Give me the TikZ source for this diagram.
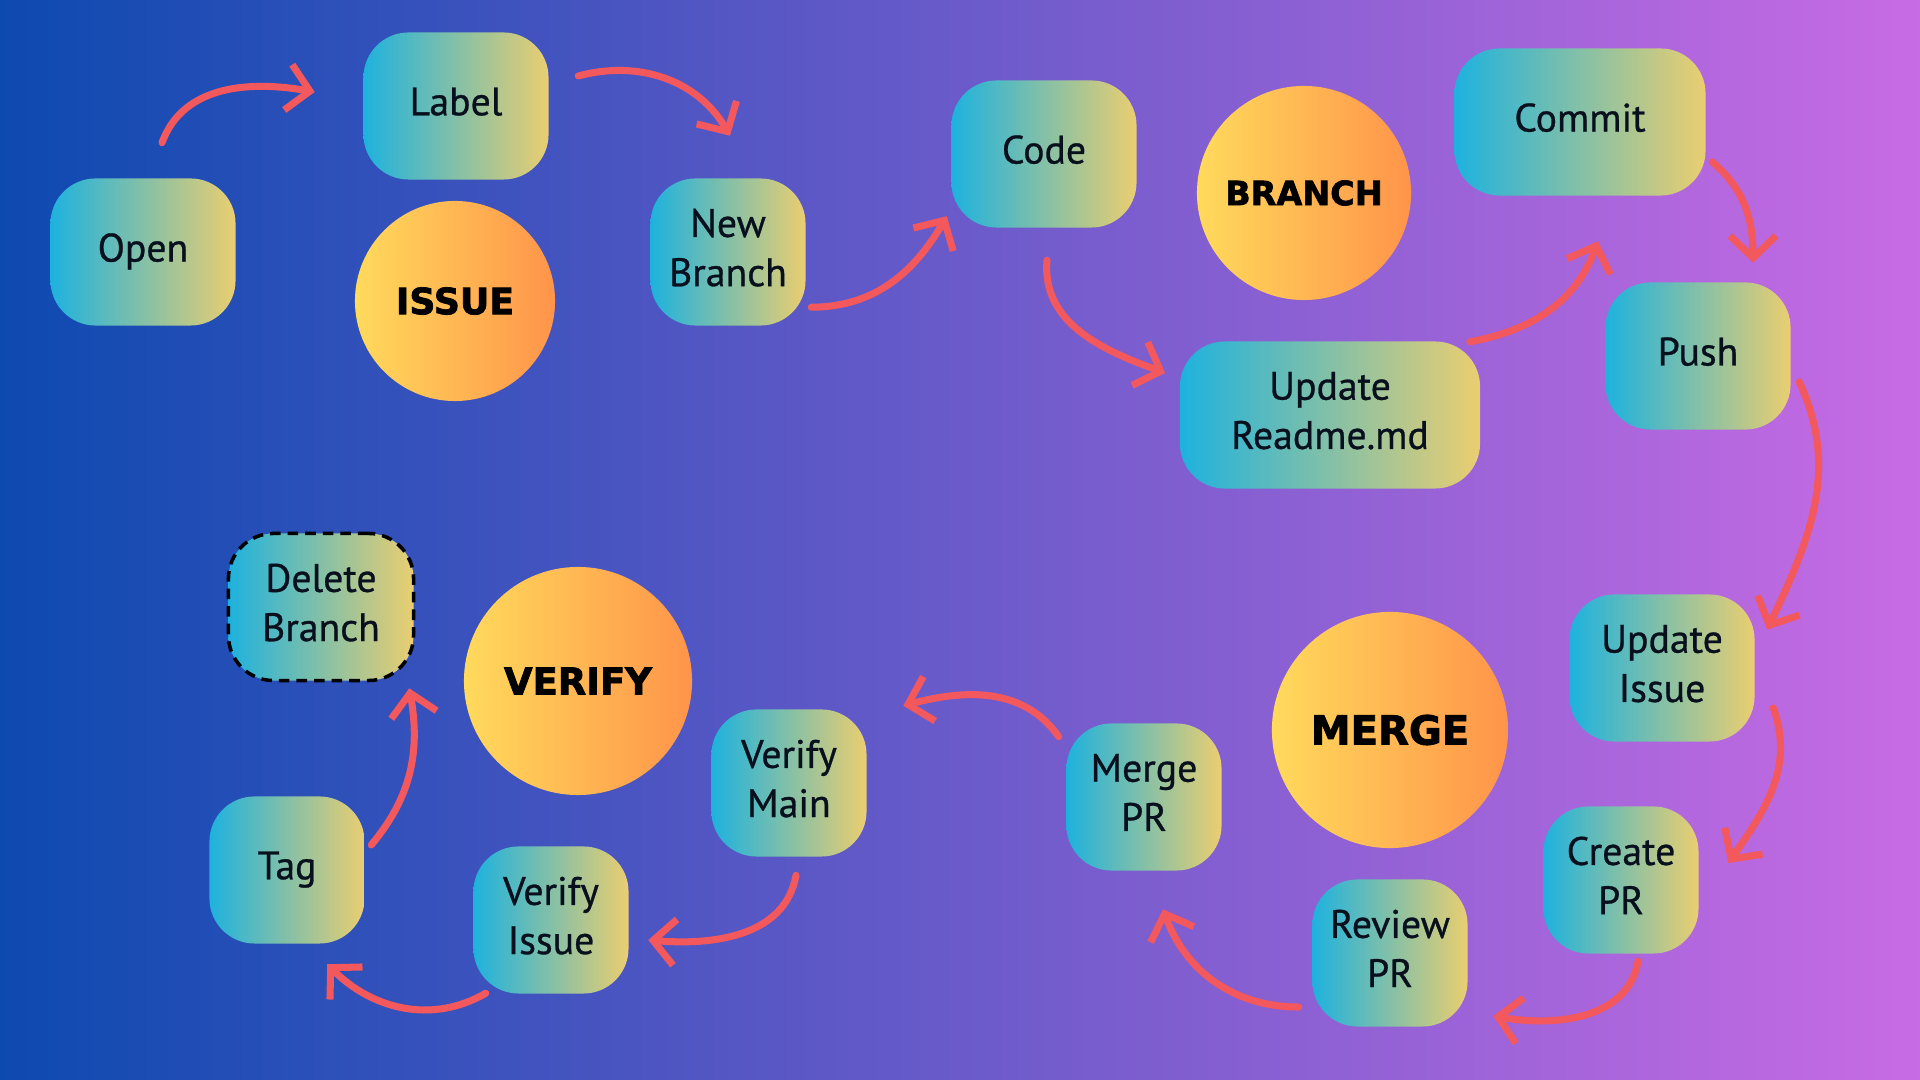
\documentclass[tikz,border=0pt]{standalone}
\usepackage{fontspec}
\setmainfont{PT Sans}[UprightFeatures={FakeBold=0.7}]
\newfontfamily\heavyfont{DejaVu Sans}[BoldFeatures={FakeBold=2}]
\usetikzlibrary{arrows.meta}
\definecolor{BgBlue}{RGB}{13,74,176}
\definecolor{BgPink}{RGB}{200,107,228}
\definecolor{BoxTeal}{RGB}{30,178,222}
\definecolor{BoxSand}{RGB}{234,206,112}
\definecolor{SunYellow}{RGB}{255,218,92}
\definecolor{SunOrange}{RGB}{255,148,74}
\definecolor{ArrowRed}{RGB}{242,88,92}
\definecolor{InkDark}{RGB}{8,16,30}
\tikzset{
  stepbox/.style={rounded corners=4.5mm,left color=BoxTeal,right color=BoxSand,
    minimum width=1.55cm,minimum height=1.47cm,align=center,text=InkDark,
    text depth=2.6pt,font=\fontsize{11.3}{14}\selectfont},
  widebox/.style={stepbox,minimum width=1.85cm},
  phase/.style={circle,inner sep=0pt,left color=SunYellow,right color=SunOrange,
    text=black,font=\heavyfont\bfseries},
  flowarrow/.style={-{Straight Barb[length=2.2mm,width=4.6mm]},
    line width=2pt,draw=ArrowRed,line cap=round},
}

\begin{document}
\begin{tikzpicture}[x=0.01cm,y=0.01cm]
\shade[left color=BgBlue,right color=BgPink] (0,0) rectangle (1920,-1080);
% issue
\node[widebox] (open) at (143,-252) {Open};
\node[widebox] (label) at (456,-106) {Label};
\node[phase,minimum size=2.0cm] (issue) at (455,-301) {\fontsize{10.3}{12}\selectfont ISSUE};
\node[stepbox] (newbranch) at (728,-252) {New\\Branch};
% branch
\node[widebox] (code) at (1044,-154) {Code};
\node[phase,minimum size=2.14cm] (branch) at (1304,-193) {\fontsize{9.5}{12}\selectfont BRANCH};
\node[stepbox,minimum width=2.51cm] (commit) at (1580,-122) {Commit};
\node[stepbox,minimum width=3.0cm] (readme) at (1330,-415) {Update\\Readme.md};
\node[widebox] (push) at (1698,-356) {Push};
% merge
\node[widebox] (updissue) at (1662,-668) {Update\\Issue};
\node[phase,minimum size=2.36cm] (merge) at (1390,-730) {\fontsize{11.4}{13}\selectfont MERGE};
\node[stepbox] (createpr) at (1621,-880) {Create\\PR};
\node[stepbox] (reviewpr) at (1390,-953) {Review\\PR};
\node[stepbox] (mergepr) at (1144,-797) {Merge\\PR};
% verify
\node[stepbox] (verifymain) at (789,-783) {Verify\\Main};
\node[phase,minimum size=2.28cm] (verify) at (578,-681) {\fontsize{10.5}{12}\selectfont VERIFY};
\node[stepbox] (verifyissue) at (551,-920) {Verify\\Issue};
\node[stepbox] (tag) at (287,-870) {Tag};
\node[widebox,draw=black,line width=1pt,dash pattern=on 3pt off 2pt] (delbranch) at (321,-607) {Delete\\Branch};
% arrows
\draw[flowarrow] ([xshift=1.9mm,yshift=3.5mm]open.north) to[out=70,in=170] ([xshift=-4.8mm,yshift=1.4mm]label.west);
\draw[flowarrow] ([xshift=2.9mm,yshift=3mm]label.east) to[out=15,in=120] ([xshift=0.2mm,yshift=4.2mm]newbranch.north);
\draw[flowarrow] ([xshift=0.5mm,yshift=1.9mm]newbranch.south east) to[out=0,in=-120] ([xshift=-0.4mm,yshift=1.2mm]code.south west);
\draw[flowarrow] ([xshift=0.3mm,yshift=-3.2mm]code.south) to[out=-95,in=160] ([xshift=-1.4mm,yshift=4.2mm]readme.west);
\draw[flowarrow] ([xshift=-1.1mm,yshift=-0.1mm]readme.north east) to[out=10,in=-110] ([xshift=1.8mm,yshift=-4.5mm]commit.south);
\draw[flowarrow] ([xshift=0.6mm,yshift=-4mm]commit.east) to[out=-40,in=90] ([xshift=5.5mm,yshift=1.9mm]push.north);
\draw[flowarrow] ([xshift=0.8mm,yshift=-2.6mm]push.east) to[out=-65,in=65] ([xshift=1.2mm,yshift=-3.6mm]updissue.north east);
\draw[flowarrow] ([xshift=1.8mm,yshift=-4mm]updissue.east) to[out=-70,in=55] ([xshift=2.9mm,yshift=1.7mm]createpr.east);
\draw[flowarrow] ([xshift=1.7mm,yshift=-0.7mm]createpr.south) to[out=-100,in=-10] ([xshift=2.5mm,yshift=-6.3mm]reviewpr.east);
\draw[flowarrow] ([xshift=-1.3mm,yshift=-5.4mm]reviewpr.west) to[out=180,in=-70] ([xshift=1.9mm,yshift=-3.8mm]mergepr.south);
\draw[flowarrow] ([xshift=-0.7mm,yshift=-1.4mm]mergepr.north west) to[out=125,in=15] ([xshift=3.6mm,yshift=0.3mm]verifymain.north east);
\draw[flowarrow] ([xshift=0.7mm,yshift=-1.8mm]verifymain.south) to[out=-100,in=-5] ([xshift=1.9mm,yshift=-2mm]verifyissue.east);
\draw[flowarrow] ([xshift=1.3mm,yshift=0.1mm]verifyissue.south west) to[out=-150,in=-45] ([xshift=-3.8mm,yshift=-2mm]tag.south east);
\draw[flowarrow] ([xshift=0.6mm,yshift=2.5mm]tag.east) to[out=50,in=-80] ([xshift=-0.6mm,yshift=-0.6mm]delbranch.south east);
\end{tikzpicture}
\end{document}
